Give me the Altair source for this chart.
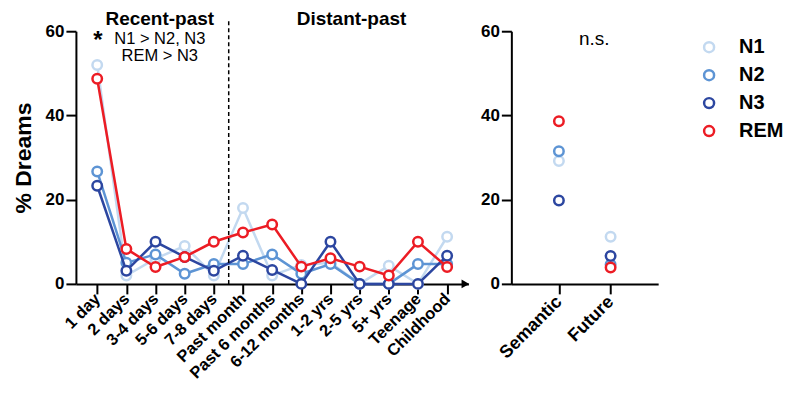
import altair as alt
import pandas as pd

# ---------------- data ----------------
categories = ["1 day", "2 days", "3-4 days", "5-6 days", "7-8 days", "Past month",
              "Past 6 months", "6-12 months", "1-2 yrs", "2-5 yrs", "5+ yrs",
              "Teenage", "Childhood"]
series = ["N1", "N2", "N3", "REM"]
colors = ["#c3d9f0", "#5d94d4", "#2c46a0", "#ec1c24"]

n1_time = [52.0, 2.0, 6.0, 9.0, 2.0, 18.0, 2.0, 4.5, 5.0, 0.0, 4.3, 0.0, 11.2]
n2_time = [26.7, 5.0, 7.0, 2.4, 4.7, 4.7, 7.0, 2.4, 4.7, 0.0, 0.0, 4.7, 4.7]
n3_time = [23.3, 3.1, 10.0, 6.4, 3.1, 6.7, 3.3, 0.0, 10.0, 0.0, 0.0, 0.0, 6.7]
rem_time = [48.7, 8.3, 4.0, 6.4, 10.0, 12.2, 14.1, 4.1, 6.1, 4.1, 2.0, 10.0, 4.0]

types = ["Semantic", "Future"]
n1_type = [29.2, 11.2]
n2_type = [31.5, 4.6]
n3_type = [19.8, 6.6]
rem_type = [38.6, 3.9]

left_rows = []
for s, vals in zip(series, [n1_time, n2_time, n3_time, rem_time]):
    for c, v in zip(categories, vals):
        left_rows.append({"series": s, "cat": c, "value": v})
df_left = pd.DataFrame(left_rows)

right_rows = []
for s, vals in zip(series, [n1_type, n2_type, n3_type, rem_type]):
    for c, v in zip(types, vals):
        right_rows.append({"series": s, "cat": c, "value": v})
df_right = pd.DataFrame(right_rows)

FONT = "Liberation Sans"
LW, LH = 393, 253
RW = 147

cscale = alt.Scale(domain=series, range=colors)
y_scale = alt.Scale(domain=[0, 60], nice=False)

# ---------------- left panel ----------------
xl = alt.X("cat:N", sort=categories,
           scale=alt.Scale(type="point", domain=categories, padding=0.73),
           axis=alt.Axis(labelAngle=-45, labelAlign="right", labelBaseline="middle",
                         labelFontSize=16.5, labelOverlap=False, labelPadding=2,
                         title=None))
yl = alt.Y("value:Q", scale=y_scale,
           axis=alt.Axis(values=[0, 20, 40, 60], title="% Dreams",
                         titleFontSize=23, titleFontWeight="bold", titlePadding=10,
                         labelFontSize=17, labelPadding=2))

layers = []
for s in series:
    base = alt.Chart(df_left).transform_filter(alt.datum.series == s)
    layers.append(base.mark_line(strokeWidth=2.5).encode(
        x=xl, y=yl, stroke=alt.Stroke("series:N", scale=cscale, legend=None)))
    layers.append(base.mark_point(shape="circle", fill="white", fillOpacity=1,
                                  opacity=1, size=90, strokeWidth=2.5).encode(
        x=xl, y=yl, stroke=alt.Stroke("series:N", scale=cscale, legend=None)))

one = pd.DataFrame({"a": [0]})
divider = alt.Chart(one).mark_rule(strokeDash=[4, 3], strokeWidth=1.5, color="black").encode(
    x=alt.value(153), y=alt.value(-10), y2=alt.value(LH))
arrow = alt.Chart(one).mark_point(shape="triangle-right", filled=True, color="black",
                                  size=80, opacity=1).encode(
    x=alt.value(LW - 3), y=alt.value(LH))

head1 = alt.Chart(one).mark_text(font=FONT, fontSize=19, fontWeight="bold", color="black",
                                 text="Recent-past").encode(x=alt.value(84), y=alt.value(-12))
head2 = alt.Chart(one).mark_text(font=FONT, fontSize=19, fontWeight="bold", color="black",
                                 text="Distant-past").encode(x=alt.value(276), y=alt.value(-12))
note1 = alt.Chart(one).mark_text(font=FONT, fontSize=16.5, color="black",
                                 text="N1 > N2, N3").encode(x=alt.value(84), y=alt.value(8))
note2 = alt.Chart(one).mark_text(font=FONT, fontSize=16.5, color="black",
                                 text="REM > N3").encode(x=alt.value(84), y=alt.value(25))
star = alt.Chart(one).mark_text(font=FONT, fontSize=24, fontWeight="bold", color="black",
                                text="*").encode(x=alt.value(22), y=alt.value(10))

left = alt.layer(*layers, divider, arrow, head1, head2, star, note1, note2
                 ).properties(width=LW, height=LH)

# ---------------- right panel ----------------
xr = alt.X("cat:N", sort=types,
           scale=alt.Scale(type="point", domain=types, padding=0.92),
           axis=alt.Axis(labelAngle=-45, labelAlign="right", labelBaseline="middle",
                         labelFontSize=18, labelOverlap=False, labelPadding=5,
                         title=None))
yr = alt.Y("value:Q", scale=y_scale,
           axis=alt.Axis(values=[0, 20, 40, 60], title=None, labelFontSize=17,
                         labelPadding=2))

right_pts = alt.Chart(df_right).mark_point(shape="circle", fill="white", fillOpacity=1,
                                           opacity=1, size=90, strokeWidth=2.5).encode(
    x=xr, y=yr,
    stroke=alt.Stroke("series:N", scale=cscale,
                      legend=alt.Legend(title=None, orient="none", legendX=188, legendY=6,
                                        symbolType="circle", symbolSize=100,
                                        symbolStrokeWidth=2.5, symbolFillColor="white",
                                        labelFont=FONT, labelFontSize=20,
                                        labelFontWeight="bold", labelColor="black",
                                        labelOffset=20, rowPadding=8, padding=0)))
ns = alt.Chart(one).mark_text(font=FONT, fontSize=19, color="black", text="n.s.").encode(
    x=alt.value(83), y=alt.value(8))

right = alt.layer(right_pts, ns).properties(width=RW, height=LH)

chart = alt.hconcat(left, right, spacing=11).resolve_scale(
    stroke="independent", x="independent", y="independent"
).properties(padding={"left": 4, "top": 2, "right": 0, "bottom": 0}
).configure_view(stroke=None).configure_axis(
    labelFont=FONT, titleFont=FONT, labelFontWeight="bold", labelColor="black",
    titleColor="black", domainColor="black", domainWidth=2, tickColor="black",
    tickWidth=2, tickSize=10, grid=False, labelOverlap=False
)

chart.save("out.html", embed_options={"renderer": "svg", "actions": False})
